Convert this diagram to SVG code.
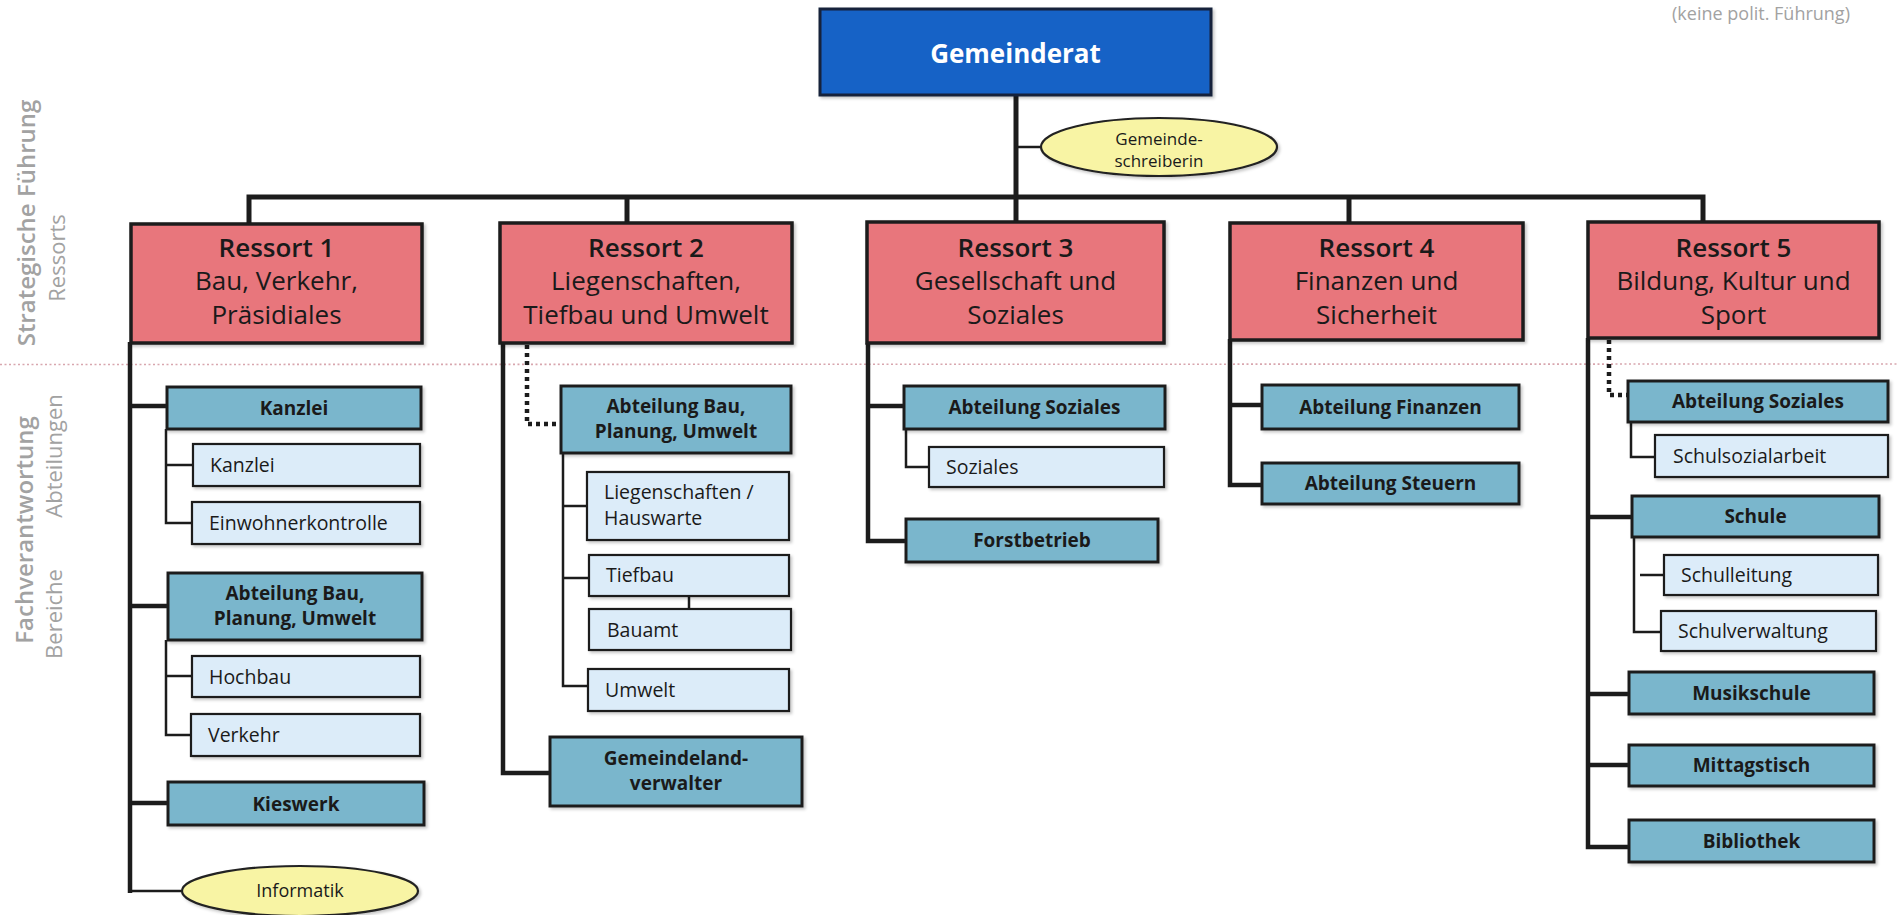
<svg xmlns="http://www.w3.org/2000/svg" width="1898" height="915" viewBox="0 0 1898 915">
<defs>
<filter id="sh" x="-5%" y="-10%" width="115%" height="130%">
<feDropShadow dx="2" dy="2" stdDeviation="1.5" flood-color="#000" flood-opacity="0.22"/>
</filter>
<style>
text{font-family:"Open Sans","DejaVu Sans",sans-serif;fill:#1a1a1a}
.gr{fill:#1862c6;stroke:#14213a;stroke-width:3;filter:url(#sh)}
.gt{fill:#ffffff;font-size:26px;font-weight:700;text-anchor:middle}
.rs{fill:#e8767c;stroke:#1e1e1e;stroke-width:3.5;filter:url(#sh)}
.rt{font-size:26px;text-anchor:middle}
.rb{font-weight:600}
.dk{fill:#7ab6cc;stroke:#1e1e1e;stroke-width:3;filter:url(#sh)}
.dt{font-size:19px;font-weight:700;text-anchor:middle}
.lt{fill:#dcecf9;stroke:#1e1e1e;stroke-width:2.2;filter:url(#sh)}
.ltt{font-size:19.5px}
.el{fill:#f8f4a4;stroke:#222;stroke-width:2.2;filter:url(#sh)}
.et{font-size:17px;text-anchor:middle}
.side1{font-size:24px;font-weight:600;fill:#a2a2a2;text-anchor:middle}
.side2{font-size:22px;fill:#a2a2a2;text-anchor:middle}
.c5{fill:none;stroke:#1c1c1c;stroke-width:5;stroke-linejoin:miter}
.c4{fill:none;stroke:#1c1c1c;stroke-width:4.5;stroke-linejoin:miter}
.c2{fill:none;stroke:#1c1c1c;stroke-width:2.5;stroke-linejoin:miter}
.cd{fill:none;stroke:#1c1c1c;stroke-width:4.5;stroke-dasharray:4 4}
.sep{fill:none;stroke:#d8a6ae;stroke-width:1.6;stroke-dasharray:2 2.5}
</style>
</defs>
<rect x="0" y="0" width="1898" height="915" fill="#ffffff"/>

<g id="labels">
<text class="side2" x="1761" y="20" style="font-size:18px">(keine polit. Führung)</text>
<text class="side1" transform="translate(35,223) rotate(-90)">Strategische Führung</text>
<text class="side2" transform="translate(65,258) rotate(-90)">Ressorts</text>
<text class="side1" transform="translate(33,530) rotate(-90)">Fachverantwortung</text>
<text class="side2" transform="translate(62,456) rotate(-90)">Abteilungen</text>
<text class="side2" transform="translate(62,614) rotate(-90)">Bereiche</text>
<line class="sep" x1="0" y1="364.5" x2="1898" y2="364"/>
</g>

<g id="connectors">
<line class="c5" x1="1016" y1="95" x2="1016" y2="223"/>
<line class="c2" x1="1016" y1="147" x2="1041" y2="147"/>
<path class="c5" d="M249,225 V197 H1703 V223"/>
<line class="c5" x1="627" y1="197" x2="627" y2="223"/>
<line class="c5" x1="1349" y1="197" x2="1349" y2="223"/>
<line class="c4" x1="130" y1="342" x2="130" y2="893"/>
<line class="c4" x1="130" y1="406" x2="167" y2="406"/>
<path class="c2" d="M166,429 V523 H192"/>
<line class="c2" x1="166" y1="465" x2="193" y2="465"/>
<line class="c4" x1="130" y1="606" x2="168" y2="606"/>
<path class="c2" d="M166,640 V735 H191"/>
<line class="c2" x1="166" y1="676" x2="192" y2="676"/>
<line class="c4" x1="130" y1="803" x2="168" y2="803"/>
<line class="c2" x1="130" y1="891" x2="182" y2="891"/>
<path class="c4" d="M503,343 V773 H550"/>
<path class="cd" d="M527,345 V424 H561"/>
<path class="c2" d="M563,453 V686 H588"/>
<line class="c2" x1="563" y1="506" x2="587" y2="506"/>
<line class="c2" x1="563" y1="578" x2="589" y2="578"/>
<line class="c2" x1="689" y1="596" x2="689" y2="609"/>
<path class="c4" d="M868,343 V541 H906"/>
<line class="c4" x1="868" y1="406" x2="904" y2="406"/>
<path class="c2" d="M906,429 V467 H929"/>
<path class="c4" d="M1230,339 V485 H1262"/>
<line class="c4" x1="1230" y1="405" x2="1262" y2="405"/>
<path class="c4" d="M1588,338 V847 H1629"/>
<path class="cd" d="M1609,340 V395 H1628"/>
<path class="c2" d="M1631,422 V457 H1655"/>
<line class="c4" x1="1588" y1="517" x2="1632" y2="517"/>
<path class="c2" d="M1634,537 V632 H1661"/>
<line class="c2" x1="1640" y1="575" x2="1664" y2="575"/>
<line class="c4" x1="1588" y1="694" x2="1629" y2="694"/>
<line class="c4" x1="1588" y1="765" x2="1629" y2="765"/>
</g>

<g id="gemeinderat"><rect class="gr" x="820" y="9" width="391" height="86"/><text class="gt" x="1015.5" y="63">Gemeinderat</text></g>
<g id="gemeindeschreiberin"><ellipse class="el" cx="1159" cy="147" rx="118" ry="29"/><text class="et" x="1159" y="145">Gemeinde-</text><text class="et" x="1159" y="167">schreiberin</text></g>

<g id="ressort1"><rect class="rs" x="131" y="224" width="291" height="119"/><text class="rt" x="276.5"><tspan class="rb" x="276.5" y="257">Ressort 1</tspan><tspan x="276.5" y="290">Bau, Verkehr,</tspan><tspan x="276.5" y="324">Präsidiales</tspan></text></g>
<g id="ressort2"><rect class="rs" x="500" y="223" width="292" height="120"/><text class="rt" x="646"><tspan class="rb" x="646" y="257">Ressort 2</tspan><tspan x="646" y="290">Liegenschaften,</tspan><tspan x="646" y="324">Tiefbau und Umwelt</tspan></text></g>
<g id="ressort3"><rect class="rs" x="867" y="222" width="297" height="121"/><text class="rt" x="1015.5"><tspan class="rb" x="1015.5" y="257">Ressort 3</tspan><tspan x="1015.5" y="290">Gesellschaft und</tspan><tspan x="1015.5" y="324">Soziales</tspan></text></g>
<g id="ressort4"><rect class="rs" x="1230" y="223" width="293" height="117"/><text class="rt" x="1376.5"><tspan class="rb" x="1376.5" y="257">Ressort 4</tspan><tspan x="1376.5" y="290">Finanzen und</tspan><tspan x="1376.5" y="324">Sicherheit</tspan></text></g>
<g id="ressort5"><rect class="rs" x="1588" y="222" width="291" height="116"/><text class="rt" x="1733.5"><tspan class="rb" x="1733.5" y="257">Ressort 5</tspan><tspan x="1733.5" y="290">Bildung, Kultur und</tspan><tspan x="1733.5" y="324">Sport</tspan></text></g>

<g id="r1-kanzlei"><rect class="dk" x="167" y="387" width="254" height="42"/><text class="dt" x="294" y="415">Kanzlei</text></g>
<g id="r1-kanzlei-b"><rect class="lt" x="193" y="444" width="227" height="42"/><text class="ltt" x="210" y="472">Kanzlei</text></g>
<g id="r1-einwohner"><rect class="lt" x="192" y="502" width="228" height="42"/><text class="ltt" x="209" y="530">Einwohnerkontrolle</text></g>
<g id="r1-bau"><rect class="dk" x="168" y="573" width="254" height="67"/><text class="dt" x="295" y="600">Abteilung Bau,</text><text class="dt" x="295" y="625">Planung, Umwelt</text></g>
<g id="r1-hochbau"><rect class="lt" x="192" y="656" width="228" height="41"/><text class="ltt" x="209" y="684">Hochbau</text></g>
<g id="r1-verkehr"><rect class="lt" x="191" y="714" width="229" height="42"/><text class="ltt" x="208" y="742">Verkehr</text></g>
<g id="r1-kieswerk"><rect class="dk" x="168" y="782" width="256" height="43"/><text class="dt" x="296" y="811">Kieswerk</text></g>
<g id="r1-informatik"><ellipse class="el" cx="300" cy="891" rx="118" ry="25"/><text class="et" x="300" y="897" style="font-size:18px">Informatik</text></g>

<g id="r2-bau"><rect class="dk" x="561" y="386" width="230" height="67"/><text class="dt" x="676" y="413">Abteilung Bau,</text><text class="dt" x="676" y="438">Planung, Umwelt</text></g>
<g id="r2-liegenschaften"><rect class="lt" x="587" y="472" width="202" height="68"/><text class="ltt" x="604" y="499">Liegenschaften /</text><text class="ltt" x="604" y="525">Hauswarte</text></g>
<g id="r2-tiefbau"><rect class="lt" x="589" y="555" width="200" height="41"/><text class="ltt" x="606" y="582">Tiefbau</text></g>
<g id="r2-bauamt"><rect class="lt" x="589" y="609" width="202" height="41"/><text class="ltt" x="607" y="637">Bauamt</text></g>
<g id="r2-umwelt"><rect class="lt" x="588" y="669" width="201" height="42"/><text class="ltt" x="605" y="697">Umwelt</text></g>
<g id="r2-gemeindeland"><rect class="dk" x="550" y="737" width="252" height="69"/><text class="dt" x="676" y="765">Gemeindeland-</text><text class="dt" x="676" y="790">verwalter</text></g>

<g id="r3-soziales"><rect class="dk" x="904" y="386" width="261" height="43"/><text class="dt" x="1034.5" y="414">Abteilung Soziales</text></g>
<g id="r3-soziales-b"><rect class="lt" x="929" y="447" width="235" height="40"/><text class="ltt" x="946" y="474">Soziales</text></g>
<g id="r3-forst"><rect class="dk" x="906" y="519" width="252" height="43"/><text class="dt" x="1032" y="547">Forstbetrieb</text></g>

<g id="r4-finanzen"><rect class="dk" x="1262" y="385" width="257" height="44"/><text class="dt" x="1390.5" y="414">Abteilung Finanzen</text></g>
<g id="r4-steuern"><rect class="dk" x="1262" y="463" width="257" height="41"/><text class="dt" x="1390.5" y="490">Abteilung Steuern</text></g>

<g id="r5-soziales"><rect class="dk" x="1628" y="381" width="260" height="41"/><text class="dt" x="1758" y="408">Abteilung Soziales</text></g>
<g id="r5-schulsozial"><rect class="lt" x="1655" y="435" width="233" height="42"/><text class="ltt" x="1673" y="463">Schulsozialarbeit</text></g>
<g id="r5-schule"><rect class="dk" x="1632" y="496" width="247" height="41"/><text class="dt" x="1755.5" y="523">Schule</text></g>
<g id="r5-schulleitung"><rect class="lt" x="1664" y="555" width="214" height="40"/><text class="ltt" x="1681" y="582">Schulleitung</text></g>
<g id="r5-schulverwaltung"><rect class="lt" x="1661" y="611" width="215" height="40"/><text class="ltt" x="1678" y="638">Schulverwaltung</text></g>
<g id="r5-musikschule"><rect class="dk" x="1629" y="672" width="245" height="42"/><text class="dt" x="1751.5" y="700">Musikschule</text></g>
<g id="r5-mittagstisch"><rect class="dk" x="1629" y="745" width="245" height="41"/><text class="dt" x="1751.5" y="772">Mittagstisch</text></g>
<g id="r5-bibliothek"><rect class="dk" x="1629" y="820" width="245" height="42"/><text class="dt" x="1751.5" y="848">Bibliothek</text></g>
</svg>
